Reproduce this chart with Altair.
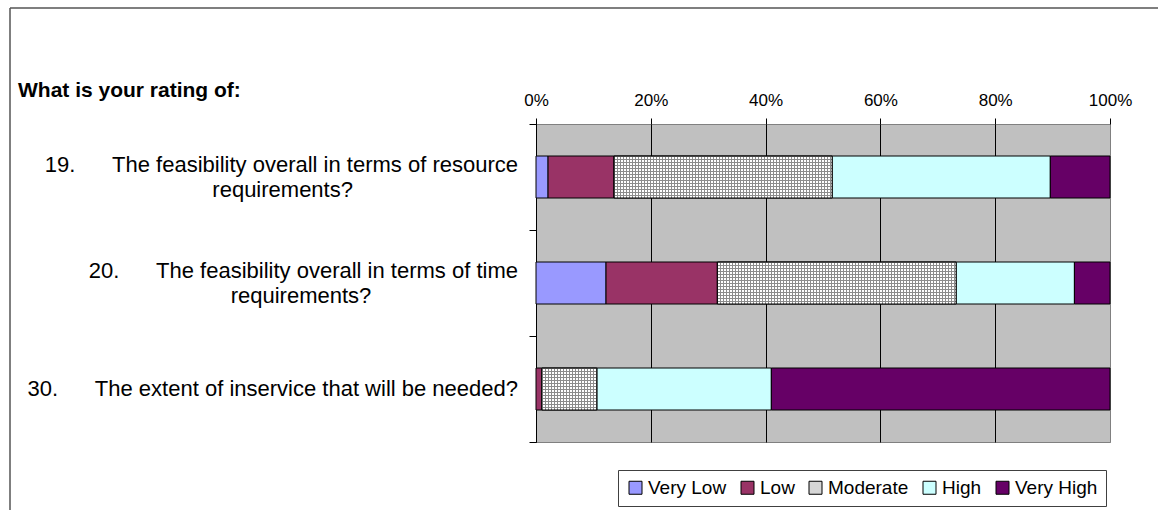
import altair as alt
import pandas as pd

# Survey items (question number, first and second line of the wording)
q_numbers = ["19", "20", "30"]
q_line_one = [
    "The feasibility overall in terms of resource",
    "The feasibility overall in terms of time",
    "The extent of inservice that will be needed?",
]
q_line_two = ["requirements?", "requirements?", ""]

levels = ["Very Low", "Low", "Moderate", "High", "Very High"]
level_colors = ["#9999FF", "#993366", "#D6D6D6", "#CCFFFF", "#660066"]

# Share of responses (%) per rating level, in question order
very_low = [2.1, 12.2, 0.0]
low = [11.5, 19.4, 1.0]
moderate = [38.0, 41.6, 9.6]
high = [38.0, 20.6, 30.4]
very_high = [10.4, 6.2, 59.0]

title_text = "What is your rating of:"

NB = "\u00a0"
WJ = "\u2060"  # zero-width word joiner keeps trailing padding from being trimmed
GAP = NB * 6
# trailing pads keep the second line centred under the first one
PADS = [27, 24, 0]

label_rows = []
for num, one, two, pad in zip(q_numbers, q_line_one, q_line_two, PADS):
    label_rows.append({
        "q": num,
        "first": f"{num}.{GAP}{one}",
        "second": (two + NB * pad + WJ) if two else "",
        "lines": 2 if two else 1,
    })
label_df = pd.DataFrame(label_rows)

rows = []
series = [very_low, low, moderate, high, very_high]
for lvl_i, (lvl, vals) in enumerate(zip(levels, series)):
    for q_i, v in enumerate(vals):
        rows.append({"q": q_numbers[q_i], "level": lvl, "order": lvl_i, "pct": v})
df = pd.DataFrame(rows)

W, H = 574, 318
BAR_H = 42
GRID_PITCH = 3
GRID_LINE = "#8c8c8c"
FONT = "Liberation Sans"
LINE_H = 25


def stripe_gradient(length, horizontal, bg):
    stops = []
    pos = 0.0
    while pos < length:
        a = pos / length
        b = min((pos + 1) / length, 1.0)
        c = min((pos + GRID_PITCH) / length, 1.0)
        stops += [
            alt.GradientStop(offset=a, color=GRID_LINE),
            alt.GradientStop(offset=b, color=GRID_LINE),
            alt.GradientStop(offset=b, color=bg),
            alt.GradientStop(offset=c, color=bg),
        ]
        pos += GRID_PITCH
    if horizontal:
        return alt.LinearGradient(gradient="linear", stops=stops, x1=0, x2=1, y1=0, y2=0)
    return alt.LinearGradient(gradient="linear", stops=stops, x1=0, x2=0, y1=0, y2=1)


x_enc = alt.X(
    "x0:Q",
    scale=alt.Scale(domain=[0, 1]),
    axis=alt.Axis(
        orient="top", values=[0, 0.2, 0.4, 0.6, 0.8, 1.0], format=".0%", title=None,
        domain=False, tickSize=6, tickColor="black", labelPadding=13,
        labelBaseline="alphabetic", labelFontSize=17, labelColor="black",
        labelFont=FONT, labelFlush=False, grid=True,
        gridColor={"condition": {"test": "datum.value >= 1", "value": "#808080"}, "value": "black"},
        gridWidth=1,
    ),
)
y_enc = alt.Y(
    "q:N",
    sort=q_numbers,
    scale=alt.Scale(paddingInner=0, paddingOuter=0),
    axis=alt.Axis(
        title=None, orient="left", tickBand="extent", tickSize=7, tickColor="black",
        domainColor="black", labels=False,
    ),
)

base = (
    alt.Chart(df)
    .transform_filter("datum.pct > 0")
    .transform_stack(stack="pct", groupby=["q"], as_=["x0", "x1"],
                     sort=[alt.SortField("order")], offset="normalize")
)

bars = base.mark_bar(size=BAR_H, stroke="black", strokeWidth=1, opacity=1).encode(
    x=x_enc, x2="x1:Q", y=y_enc,
    color=alt.Color(
        "level:N",
        scale=alt.Scale(domain=levels, range=level_colors),
        legend=alt.Legend(
            title=None, orient="none", legendX=82, legendY=346, direction="horizontal",
            symbolType="square", symbolSize=169, symbolStrokeColor="black",
            symbolStrokeWidth=1, symbolOpacity=1, labelFontSize=19, labelColor="black",
            labelFont=FONT, labelOffset=3, columnPadding=11,
            padding=8, strokeColor="#404040", fillColor="white",
        ),
    ),
)

# fine grid texture on the "Moderate" segments
texture = []
for num, val in zip(q_numbers, moderate):
    seg_w = W * val / 100
    texture.append(
        base.transform_filter(f"datum.level == 'Moderate' && datum.q == '{num}'")
        .mark_bar(size=BAR_H, fill=stripe_gradient(seg_w, True, "#ffffff"), strokeWidth=0)
        .encode(x=x_enc, x2="x1:Q", y=y_enc)
    )
texture.append(
    base.transform_filter("datum.level == 'Moderate'")
    .mark_bar(size=BAR_H, fill=stripe_gradient(BAR_H, False, "rgba(255,255,255,0)"),
              stroke="black", strokeWidth=1)
    .encode(x=x_enc, x2="x1:Q", y=y_enc)
)

# question wording beside each bar, right-aligned against the axis
label_base = alt.Chart(label_df)
text_style = dict(align="right", baseline="middle", fontSize=22, font=FONT, color="black")
single = label_base.transform_filter("datum.lines == 1").mark_text(**text_style).encode(
    y=y_enc, x=alt.value(-18), text="first:N")
upper = label_base.transform_filter("datum.lines == 2").mark_text(
    dy=-LINE_H / 2, **text_style).encode(y=y_enc, x=alt.value(-18), text="first:N")
lower = label_base.transform_filter("datum.lines == 2").mark_text(
    dy=LINE_H / 2, **text_style).encode(y=y_enc, x=alt.value(-18), text="second:N")

frame_df = pd.DataFrame({"k": [0]})
frame_left = alt.Chart(frame_df).mark_rule(color="#555555", strokeWidth=1.5).encode(
    x=alt.value(-526), y=alt.value(-116), y2=alt.value(400)
)
frame_top = alt.Chart(frame_df).mark_rule(color="#555555", strokeWidth=1.5).encode(
    x=alt.value(-526), x2=alt.value(640), y=alt.value(-116)
)

heading = alt.Chart(pd.DataFrame({"t": [title_text]})).mark_text(
    align="left", baseline="alphabetic", fontSize=21, fontWeight="bold",
    font=FONT, color="black",
).encode(text="t:N", x=alt.value(-518), y=alt.value(-27))

chart = (
    alt.layer(frame_left, frame_top, heading, bars, *texture, single, upper, lower)
    .properties(
        width=W, height=H,
        autosize=alt.AutoSizeParams(type="none"),
        padding={"left": 536, "top": 124, "right": 48, "bottom": 68},
        background="white",
    )
    .configure_view(fill="#C0C0C0", stroke="#808080", strokeWidth=1)
)

chart.save("out.html", embed_options={"renderer": "svg", "actions": False})
